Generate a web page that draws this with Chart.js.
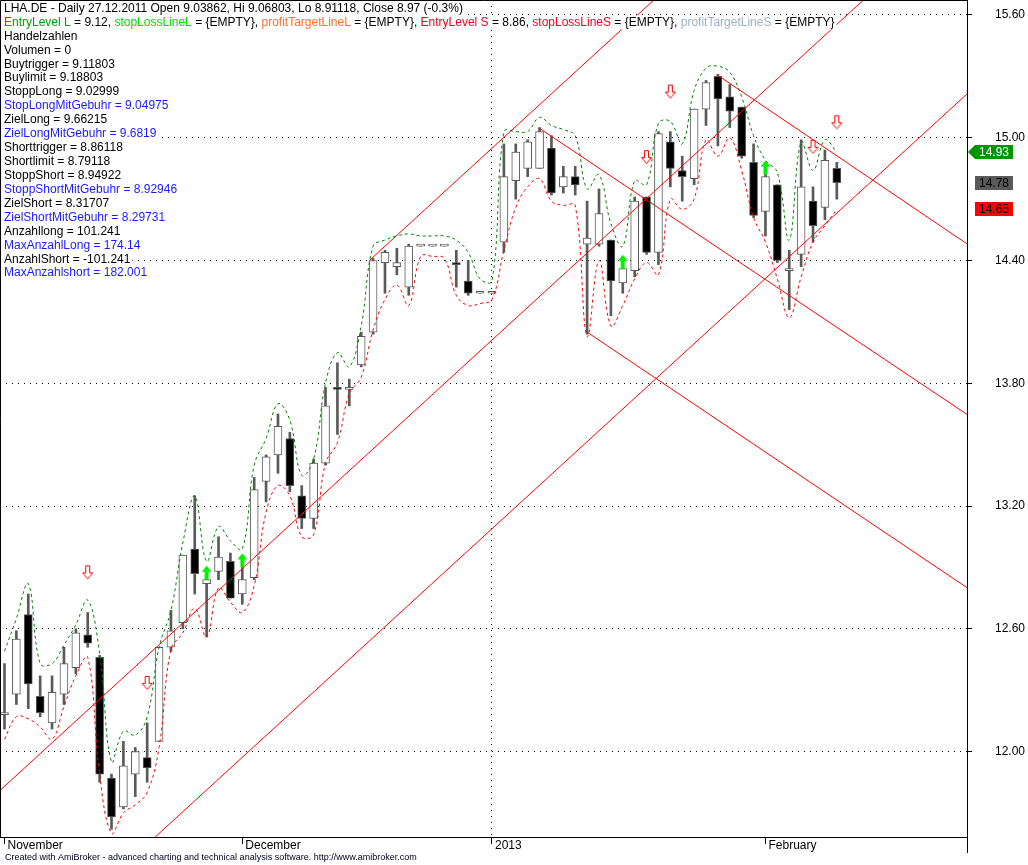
<!DOCTYPE html>
<html>
<head>
<meta charset="utf-8">
<title>LHA.DE - Daily</title>
<script src="https://cdn.jsdelivr.net/npm/chart.js@4.4.1/dist/chart.umd.min.js"></script>
<style>
  html, body { margin: 0; padding: 0; background: #fff; overflow: hidden; }
  canvas { display: block; }
</style>
</head>
<body>
<canvas id="lhaChart" width="1028" height="865"></canvas>
<script>
// one candle per trading day, index 0 = first visible day in November
const openP = [12.18, 12.28, 12.67, 12.27, 12.14, 12.28, 12.41, 12.57, 12.46, 11.87,
  11.73, 11.89, 11.97, 12.05, 12.51, 12.63, 12.99, 12.82, 12.88, 12.93,
  12.77, 12.85, 13.32, 13.45, 13.53, 13.25, 13.14, 13.41, 13.78, 13.77,
  13.89, 14.05, 14.39, 14.37, 14.27, 14.47, 14.47, 14.47, 14.39, 14.30,
  14.24, 14.24, 14.49, 14.79, 14.85, 14.85, 14.95, 14.76, 14.81, 14.48,
  14.48, 14.50, 14.29, 14.35, 14.71, 14.44, 14.98, 14.84, 14.80, 15.14,
  15.30, 15.20, 15.15, 14.88, 14.64, 14.77, 14.35, 14.43, 14.69, 14.66,
  14.85];
const highP = [12.43, 12.59, 12.77, 12.37, 12.37, 12.51, 12.60, 12.68, 12.47, 11.89,
  12.05, 12.02, 12.14, 12.51, 12.69, 12.96, 13.25, 12.84, 13.05, 12.97,
  12.90, 13.34, 13.45, 13.65, 13.56, 13.30, 13.43, 13.78, 13.90, 13.82,
  14.05, 14.41, 14.45, 14.46, 14.48, 14.47, 14.47, 14.47, 14.45, 14.40,
  14.24, 14.24, 14.97, 14.97, 14.99, 15.05, 15.01, 14.86, 14.86, 14.69,
  14.75, 14.50, 14.36, 14.71, 14.71, 15.03, 15.03, 14.91, 15.14, 15.28,
  15.31, 15.26, 15.15, 14.97, 14.82, 14.77, 14.45, 14.99, 14.76, 14.94,
  14.88];
const lowP = [12.11, 12.23, 12.21, 12.17, 12.11, 12.23, 12.38, 12.51, 11.85, 11.62,
  11.72, 11.78, 11.85, 12.05, 12.49, 12.60, 12.77, 12.56, 12.84, 12.75,
  12.72, 12.84, 13.22, 13.36, 13.27, 13.09, 13.09, 13.40, 13.55, 13.69,
  13.88, 14.04, 14.24, 14.33, 14.23, 14.47, 14.47, 14.47, 14.27, 14.23,
  14.24, 14.24, 14.44, 14.70, 14.81, 14.85, 14.72, 14.73, 14.72, 14.04,
  14.47, 14.13, 14.24, 14.32, 14.43, 14.38, 14.76, 14.69, 14.77, 15.06,
  14.96, 15.05, 14.90, 14.61, 14.52, 14.39, 14.16, 14.37, 14.49, 14.60,
  14.70];
const closeP = [12.19, 12.55, 12.33, 12.19, 12.29, 12.43, 12.58, 12.53, 11.89, 11.68,
  11.93, 12.00, 11.92, 12.51, 12.59, 12.96, 12.87, 12.84, 12.95, 12.75,
  12.84, 13.28, 13.44, 13.59, 13.30, 13.14, 13.41, 13.69, 13.77, 13.77,
  14.03, 14.40, 14.44, 14.39, 14.47, 14.47, 14.47, 14.47, 14.38, 14.24,
  14.24, 14.24, 14.81, 14.93, 14.98, 15.03, 14.73, 14.81, 14.77, 14.51,
  14.63, 14.30, 14.36, 14.69, 14.44, 15.02, 14.85, 14.81, 15.14, 15.27,
  15.19, 15.13, 14.91, 14.62, 14.81, 14.40, 14.36, 14.76, 14.57, 14.89,
  14.78];

// dashed envelope (green upper, red lower)
const upperBand = [12.49, 12.65, 12.82, 12.43, 12.43, 12.52, 12.62, 12.74, 12.48, 11.95,
  12.10, 12.08, 12.17, 12.51, 12.69, 13.02, 13.25, 12.93, 13.10, 13.03,
  12.99, 13.40, 13.53, 13.70, 13.62, 13.35, 13.43, 13.80, 13.95, 13.88,
  14.08, 14.47, 14.50, 14.52, 14.53, 14.52, 14.52, 14.52, 14.50, 14.44,
  14.31, 14.30, 15.03, 15.03, 15.03, 15.10, 15.06, 15.04, 15.01, 14.75,
  14.82, 14.58, 14.47, 14.79, 14.77, 15.07, 15.08, 14.97, 15.23, 15.34,
  15.35, 15.32, 15.20, 15.01, 14.89, 14.83, 14.50, 14.98, 14.84, 14.99,
  14.93];
const lowerBand = [12.06, 12.17, 12.16, 12.12, 12.06, 12.22, 12.37, 12.46, 11.89, 11.60,
  11.70, 11.74, 11.80, 12.02, 12.50, 12.58, 12.70, 12.56, 12.80, 12.73,
  12.68, 12.81, 13.17, 13.30, 13.25, 13.05, 13.06, 13.41, 13.51, 13.75,
  13.83, 14.06, 14.21, 14.28, 14.18, 14.42, 14.42, 14.41, 14.23, 14.18,
  14.19, 14.21, 14.45, 14.66, 14.76, 14.80, 14.69, 14.67, 14.67, 14.03,
  14.40, 14.08, 14.18, 14.31, 14.39, 14.33, 14.70, 14.65, 14.70, 14.99,
  14.91, 15.00, 14.84, 14.61, 14.49, 14.31, 14.12, 14.32, 14.49, 14.57,
  14.65];

const buySignalIdx = [17, 20, 52, 64];
const sellSignalIdx = [7, 12, 54, 56, 68, 70];

// trend lines as [startIndex, startPrice, endIndex, endPrice]
const trendLines = [
  [-1, 11.777, 75, 15.820],
  [30.7, 14.401, 57, 15.800],
  [10, 11.440, 82, 15.270],
  [45, 15.046, 82, 13.607],
  [60, 15.305, 82, 14.440],
  [49, 14.050, 82, 12.760]
];

const monthTickIdx = [0, 20, 41, 64];
const monthLabels = ['November', 'December', '2013', 'February'];
const priceTicks = [12.00, 12.60, 13.20, 13.80, 14.40, 15.00, 15.60];

const headerLine = 'LHA.DE - Daily 27.12.2011 Open 9.03862, Hi 9.06803, Lo 8.91118, Close 8.97 (-0.3%)';
const paramParts = [
  ['EntryLevel L', '#00a000'], [' = 9.12, ', '#000'],
  ['stopLossLineL', '#00dd00'], [' = {EMPTY}, ', '#000'],
  ['profitTargetLineL', '#ff6f2e'], [' = {EMPTY}, ', '#000'],
  ['EntryLevel S', '#f00020'], [' = 8.86, ', '#000'],
  ['stopLossLineS', '#f00020'], [' = {EMPTY}, ', '#000'],
  ['profitTargetLineS', '#9cb0cc'], [' = {EMPTY}', '#000']
];
const tradeLines = [
  ['Handelzahlen', '#000'],
  ['Volumen = 0', '#000'],
  ['Buytrigger = 9.11803', '#000'],
  ['Buylimit = 9.18803', '#000'],
  ['StoppLong = 9.02999', '#000'],
  ['StopLongMitGebuhr = 9.04975', '#1a1aff'],
  ['ZielLong = 9.66215', '#000'],
  ['ZielLongMitGebuhr = 9.6819', '#1a1aff'],
  ['Shorttrigger = 8.86118', '#000'],
  ['Shortlimit = 8.79118', '#000'],
  ['StoppShort = 8.94922', '#000'],
  ['StoppShortMitGebuhr = 8.92946', '#1a1aff'],
  ['ZielShort = 8.31707', '#000'],
  ['ZielShortMitGebuhr = 8.29731', '#1a1aff'],
  ['Anzahllong = 101.241', '#000'],
  ['MaxAnzahlLong = 174.14', '#1a1aff'],
  ['AnzahlShort = -101.241', '#000'],
  ['MaxAnzahlshort = 182.001', '#1a1aff']
];
const footerText = 'Created with AmiBroker - advanced charting and technical analysis software. http://www.amibroker.com';

const FONT = '"Liberation Sans", Arial, sans-serif';
Chart.defaults.font.family = FONT;
Chart.defaults.font.size = 12;
Chart.defaults.color = '#000';

// arrow markers
function sellArrow() {
  const c = document.createElement('canvas');
  c.width = 13; c.height = 96;
  const g = c.getContext('2d');
  g.translate(0.5, 0.5);
  const cx = 6, t = 1;
  g.beginPath();
  g.moveTo(cx - 2, t); g.lineTo(cx + 2, t); g.lineTo(cx + 2, t + 7);
  g.lineTo(cx + 5, t + 7); g.lineTo(cx, t + 13); g.lineTo(cx - 5, t + 7);
  g.lineTo(cx - 2, t + 7); g.closePath();
  g.fillStyle = '#fff'; g.fill();
  g.strokeStyle = '#ff0000'; g.lineWidth = 1; g.stroke();
  return c;
}
function buyArrow() {
  const c = document.createElement('canvas');
  c.width = 11; c.height = 32;
  const g = c.getContext('2d');
  const cx = 5.5;
  g.beginPath();
  g.moveTo(cx, 2); g.lineTo(cx + 5, 8); g.lineTo(cx + 2, 8); g.lineTo(cx + 2, 16);
  g.lineTo(cx - 2, 16); g.lineTo(cx - 2, 8); g.lineTo(cx - 5, 8); g.closePath();
  g.fillStyle = '#00ee00'; g.fill();
  return c;
}

const candleIdx = openP.map((_, i) => i);

const overlay = {
  id: 'overlay',
  afterDraw(chart) {
    const {ctx, chartArea: a, scales: {y}} = chart;
    ctx.save();
    // frame
    ctx.strokeStyle = '#000';
    ctx.lineWidth = 1;
    ctx.beginPath();
    ctx.moveTo(a.left + 0.5, a.bottom);
    ctx.lineTo(a.left + 0.5, a.top + 0.5);
    ctx.lineTo(a.right + 1, a.top + 0.5);
    ctx.moveTo(a.right + 0.5, a.bottom);
    ctx.lineTo(a.right + 0.5, a.bottom + 16);
    ctx.stroke();

    // text block
    ctx.font = '12px ' + FONT;
    ctx.textBaseline = 'middle';
    ctx.textAlign = 'left';
    const lineY = k => 8.5 + 13.93 * k;
    const writeLine = (parts, k) => {
      let w = 0;
      parts.forEach(p => { w += ctx.measureText(p[0]).width; });
      ctx.fillStyle = '#fff';
      ctx.fillRect(1, lineY(k) - 7, w + 5, 14);
      let x = 4;
      parts.forEach(p => {
        ctx.fillStyle = p[1];
        ctx.fillText(p[0], x, lineY(k));
        x += ctx.measureText(p[0]).width;
      });
    };
    writeLine([[headerLine, '#000']], 0);
    writeLine(paramParts, 1);
    tradeLines.forEach((l, k) => writeLine([l], k + 2));

    // last-value tags on the price axis
    const last = closeP.length - 1;
    const tag = (value, fill, txt, pointer) => {
      const py = Math.round(y.getPixelForValue(value));
      ctx.fillStyle = fill;
      ctx.beginPath();
      if (pointer) {
        ctx.moveTo(a.right + 1, py);
        ctx.lineTo(a.right + 8, py - 7);
        ctx.lineTo(a.right + 46, py - 7);
        ctx.lineTo(a.right + 46, py + 7);
        ctx.lineTo(a.right + 8, py + 7);
        ctx.closePath();
      } else {
        ctx.rect(a.right + 8, py - 7, 38, 14);
      }
      ctx.fill();
      ctx.fillStyle = txt;
      ctx.textAlign = 'center';
      ctx.fillText(value.toFixed(2), a.right + 27, py + 0.5);
    };
    tag(upperBand[last], '#009600', '#fff', true);
    tag(closeP[last], '#5a5a5a', '#000', false);
    tag(lowerBand[last], '#ff0000', '#000', false);

    // footer
    ctx.font = '9px ' + FONT;
    ctx.textAlign = 'left';
    ctx.fillStyle = '#000020';
    ctx.fillText(footerText, 5, 858);
    ctx.restore();
  }
};

new Chart(document.getElementById('lhaChart'), {
  type: 'bar',
  data: {
    datasets: [
      {
        type: 'scatter', order: 0,
        data: buySignalIdx.map(i => ({x: i, y: highP[i]})),
        pointStyle: buyArrow(), pointRadius: 6
      },
      {
        type: 'scatter', order: 0,
        data: sellSignalIdx.map(i => ({x: i, y: highP[i]})),
        pointStyle: sellArrow(), pointRadius: 6
      },
      ...trendLines.map(t => ({
        type: 'line', order: 1,
        data: [{x: t[0], y: t[1]}, {x: t[2], y: t[3]}],
        borderColor: '#ff0000', borderWidth: 1, pointRadius: 0, tension: 0
      })),
      {
        type: 'line', order: 2,
        data: upperBand.map((v, i) => ({x: i, y: v})),
        borderColor: '#008000', borderWidth: 1, borderDash: [3, 3],
        pointRadius: 0, tension: 0.4
      },
      {
        type: 'line', order: 2,
        data: lowerBand.map((v, i) => ({x: i, y: v})),
        borderColor: '#ff0000', borderWidth: 1, borderDash: [3, 3],
        pointRadius: 0, tension: 0.4
      },
      {
        order: 3, grouped: false,
        data: candleIdx.map(i => ({x: i, y: [openP[i], closeP[i]]})),
        backgroundColor: candleIdx.map(i => closeP[i] >= openP[i] ? '#ffffff' : '#000000'),
        borderColor: '#5a5a5a', borderWidth: 1, borderSkipped: false,
        barThickness: 8, minBarLength: 2
      },
      {
        order: 4, grouped: false,
        data: candleIdx.map(i => ({x: i, y: [lowP[i], highP[i]]})),
        backgroundColor: '#5a5a5a', borderWidth: 0,
        barThickness: 2
      }
    ]
  },
  options: {
    responsive: false,
    animation: false,
    devicePixelRatio: 1,
    events: [],
    layout: {padding: 0, autoPadding: false},
    plugins: {legend: {display: false}, tooltip: {enabled: false}},
    scales: {
      x: {
        type: 'linear', position: 'bottom',
        min: -0.378, max: 80.95, offset: false,
        afterBuildTicks: s => { s.ticks = monthTickIdx.map(v => ({value: v})); },
        afterFit: s => { s.height = 28; s.paddingLeft = 0; s.paddingRight = 0; },
        ticks: {
          autoSkip: false, maxRotation: 0, align: 'start', labelOffset: 3, padding: -6,
          color: '#000', font: {size: 12},
          callback: v => monthLabels[monthTickIdx.indexOf(v)]
        },
        grid: {
          offset: false,
          color: c => (c.tick && c.tick.value === 41) ? '#000' : 'rgba(0,0,0,0)',
          tickColor: '#000', tickLength: 7, tickWidth: 1
        },
        border: {display: true, color: '#000', width: 1, dash: [1, 5]}
      },
      y: {
        type: 'linear', position: 'right',
        min: 11.5824, max: 15.6733,
        afterBuildTicks: s => { s.ticks = priceTicks.map(v => ({value: v})); },
        afterFit: s => { s.width = 61; s.paddingTop = 0; s.paddingBottom = 0; },
        ticks: {
          color: '#000', font: {size: 12}, padding: 23,
          callback: v => v.toFixed(2)
        },
        grid: {color: '#000', tickColor: '#000', tickLength: 5, tickWidth: 1},
        border: {display: true, color: '#000', width: 1, dash: [1, 5]}
      }
    }
  },
  plugins: [overlay]
});
</script>
</body>
</html>
